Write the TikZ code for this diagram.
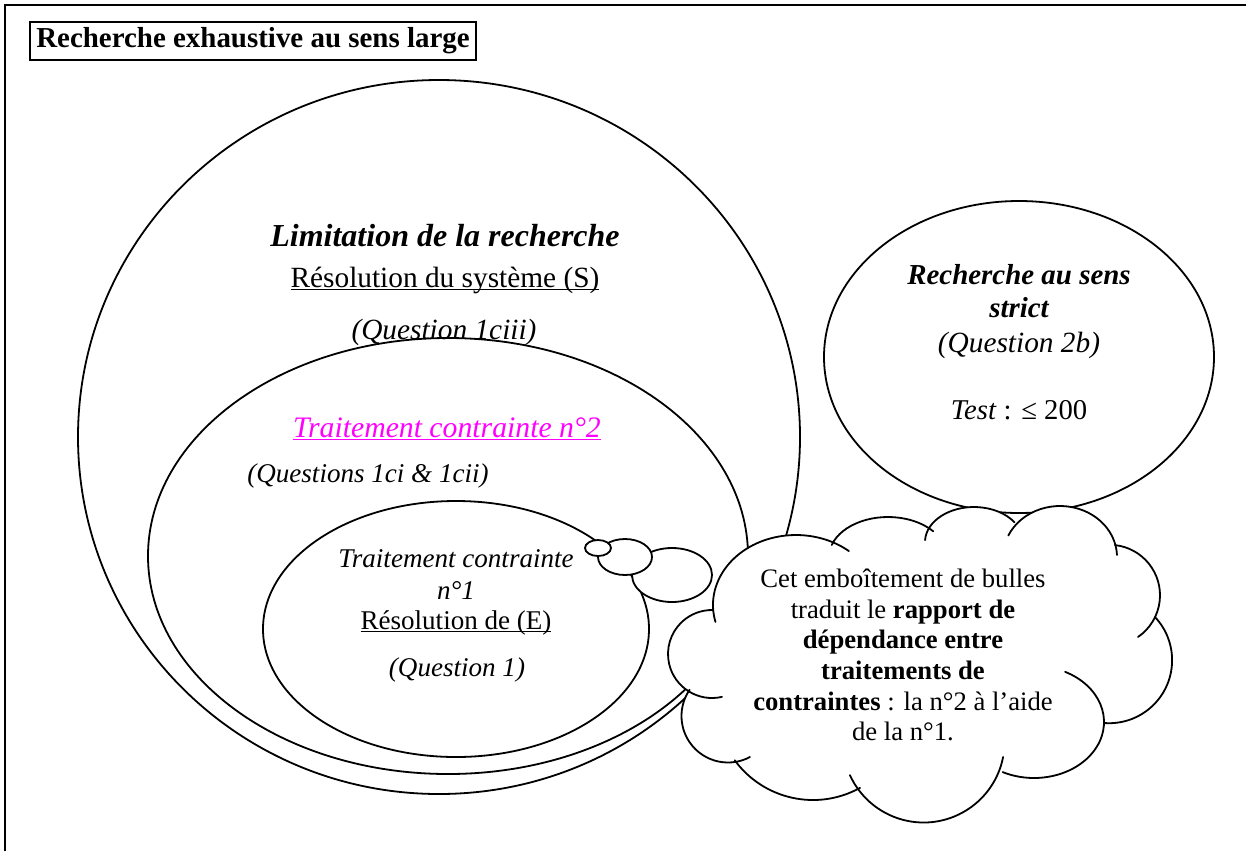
\documentclass[tikz,border=0pt]{standalone}
\usepackage{fontspec}
\setmainfont{Liberation Serif}
\newcommand{\ulx}[1]{\underline{\smash{#1}}}
\definecolor{mag}{RGB}{255,0,255}
\begin{document}
\begin{tikzpicture}[x=0.75pt,y=-0.75pt,
  shapeline/.style={line width=1.35pt},
  txt/.style={font=\fontsize{20}{23}\selectfont, inner sep=0pt, anchor=base},
  bubble/.style={shapeline, fill=white},
  puff/.style={shapeline, line cap=round}]
\useasboundingbox (0,0) rectangle (1246,851);
% frame
\coordinate (fbl) at (5,851);
\coordinate (ftl) at (5,5);
\coordinate (ftr) at (1246,5);
\draw[line width=1.8pt] (fbl) -- (ftl) -- (ftr);
\node[draw, line width=1.4pt, minimum width=334.5pt, minimum height=28.5pt, inner sep=1pt,
      font=\fontsize{21.7}{24}\selectfont\bfseries] (title) at (253,41) {Recherche exhaustive au sens large};
% ellipses
\draw[shapeline] (439,437) ellipse [x radius=361, y radius=357];
\draw[shapeline] (448,556) ellipse [x radius=300, y radius=218];
\draw[shapeline] (456,629) ellipse [x radius=193, y radius=128];
\draw[shapeline] (1019,357) ellipse [x radius=195, y radius=156];
% texts big ellipse
\node[txt, font=\fontsize{24}{26}\selectfont\bfseries\itshape] (lim) at (445,246) {Limitation de la recherche};
\node[txt, font=\fontsize{22}{24}\selectfont] (res) at (445,287) {\ulx{Résolution du système (S)}};
\node[txt, font=\fontsize{22}{24}\selectfont\itshape] (q1ciii) at (444,339) {(Question 1ciii)};
% middle
\node[txt, text=mag, font=\fontsize{22.3}{24}\selectfont\itshape] (t2) at (447,437) {\ulx{Traitement contrainte n°2}};
\node[txt, font=\fontsize{20.3}{23}\selectfont\itshape] (q1ci) at (368,482) {(Questions 1ci \& 1cii)};
% inner
\node[txt, font=\fontsize{20.3}{23}\selectfont\itshape] (t1a) at (456,567) {Traitement contrainte};
\node[txt, font=\fontsize{20.3}{23}\selectfont\itshape] (t1b) at (456,599) {n°1};
\node[txt, font=\fontsize{20.3}{23}\selectfont] (resE) at (456,629) {\ulx{Résolution de (E)}};
\node[txt, font=\fontsize{20.3}{23}\selectfont\itshape] (q1) at (457,676) {(Question 1)};
% right ellipse
\node[txt, font=\fontsize{21.7}{24}\selectfont\bfseries\itshape] (rs1) at (1019,284) {Recherche au sens};
\node[txt, font=\fontsize{21.7}{24}\selectfont\bfseries\itshape] (rs2) at (1019,317) {strict};
\node[txt, font=\fontsize{22}{24}\selectfont\itshape] (q2b) at (1019,352) {(Question 2b)};
\node[txt, font=\fontsize{21.5}{24}\selectfont] (test) at (1019,419) {\textit{Test} : ≤ 200};
% bubbles
\draw[bubble] (672,575) ellipse [x radius=40, y radius=27];
\draw[bubble] (625,557) ellipse [x radius=27, y radius=18];
\draw[bubble] (598,548) ellipse [x radius=13, y radius=8];
% cloud (Word-style callout): white fill, then the puffs
\coordinate (cloud) at (932,660);
\begin{scope}[fill=white]
\fill (796,605) -- (888,557) -- (974,542) -- (1060,557) -- (1109.5,595) -- (1109,660) -- (1034,722)
      -- (924,741.5) -- (813,703) -- (728,716) -- (712,654) -- cycle;
\fill (796,605) ellipse [x radius=83, y radius=70];
\fill (888,557) ellipse [x radius=59, y radius=40];
\fill (974,542) ellipse [x radius=49, y radius=35];
\fill (1060,557) ellipse [x radius=57, y radius=51];
\fill (1109.5,595.3) circle [radius=50.5];
\fill (1109.1,660.2) circle [radius=63];
\fill (1034,722) ellipse [x radius=70, y radius=56];
\fill (923.6,741.5) circle [radius=81];
\fill (813,703) circle [radius=97];
\fill (728,716) circle [radius=46.5];
\fill (712,654) circle [radius=44];
\end{scope}
\draw[puff] ([shift={(166:83 and 70)}]796,605) arc[start angle=166, end angle=309.6, x radius=83, y radius=70];
\draw[puff] ([shift={(197.5:59 and 40)}]888,557) arc[start angle=197.5, end angle=320, x radius=59, y radius=40];
\draw[puff] ([shift={(183:49 and 35)}]974,542) arc[start angle=183, end angle=325.7, x radius=49, y radius=35];
\draw[puff] ([shift={(204.9:57 and 51)}]1060,557) arc[start angle=204.9, end angle=357.7, x radius=57, y radius=51];
\draw[puff] ([shift={(276.2:50.5)}]1109.5,595.3) arc[start angle=276.2, end angle=415.6, radius=50.5];
\draw[puff] ([shift={(316.7:63)}]1109.1,660.2) arc[start angle=316.7, end angle=453.7, radius=63];
\draw[puff] ([shift={(296.4:70 and 56)}]1034,722) arc[start angle=296.4, end angle=476.6, x radius=70, y radius=56];
\draw[puff] ([shift={(11:81)}]923.6,741.5) arc[start angle=11, end angle=155.5, radius=81];
\draw[puff] ([shift={(61:97)}]813,703) arc[start angle=61, end angle=143.8, radius=97];
\draw[puff] ([shift={(61.8:46.5)}]728,716) arc[start angle=61.8, end angle=214.4, radius=46.5];
\draw[puff] ([shift={(76.9:44)}]712,654) arc[start angle=76.9, end angle=271.3, radius=44];
\node[txt, anchor=center, align=center, font=\fontsize{20}{23}\selectfont] (cloudtext) at (903,655)
  {Cet emboîtement de bulles\\traduit le \textbf{rapport de}\\\textbf{dépendance entre}\\\textbf{traitements de}\\\textbf{contraintes} : la n°2 à l’aide\\de la n°1.};
\end{tikzpicture}
\end{document}
